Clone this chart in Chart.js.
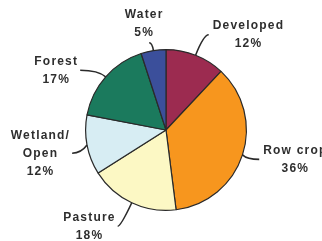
<!DOCTYPE html>
<html>
<head>
<meta charset="utf-8">
<script src="https://cdn.jsdelivr.net/npm/chart.js@4/dist/chart.umd.min.js"></script>
<style>
  html, body { margin: 0; padding: 0; background: #fff; }
  #wrap { width: 322px; height: 241px; position: relative; }
</style>
</head>
<body>
<div id="wrap"><canvas id="landUse"></canvas></div>
<script>
// land use shares (%), clockwise from 12 o'clock
const categories = ["Developed", "Row crop", "Pasture", "Wetland/\nOpen", "Forest", "Water"];
const shares = [12, 36, 18, 12, 17, 5];
const sliceColors = ["#9c2b50", "#f7961e", "#fcf8c4", "#d7edf3", "#1b7a5d", "#3b4f9b"];

// where each callout goes, relative to its slice
const calloutLayout = [
    { ext: 22, tick: 5, side: "right", dy: 0 },
    { ext: 5, tick: 12, side: "right", dy: 3 },
    { ext: 26, tick: -3, side: "left", dy: 0 },
    { ext: 6, tick: -9, side: "left", dy: 7 },
    { ext: 10, tick: -18, side: "left", dy: 0 },
    { ext: 8, tick: -3, side: "above", dy: 0, dx: -5 }
];

const calloutPlugin = {
    id: "callouts",
    afterDatasetsDraw(chart) {
        const ctx = chart.ctx;
        const meta = chart.getDatasetMeta(0);
        const lh = 18;
        ctx.save();
        ctx.font = "bold 12px 'Liberation Sans', Arial, sans-serif";
        ctx.letterSpacing = "1.2px";
        ctx.textBaseline = "middle";
        ctx.textAlign = "center";
        meta.data.forEach(function (arc, i) {
            const p = arc.getProps(["x", "y", "startAngle", "endAngle", "outerRadius"], true);
            const lay = calloutLayout[i];
            const mid = (p.startAngle + p.endAngle) / 2;
            const cx = Math.cos(mid), cy = Math.sin(mid);
            const x0 = p.x + cx * p.outerRadius, y0 = p.y + cy * p.outerRadius;
            const x1 = p.x + cx * (p.outerRadius + lay.ext), y1 = p.y + cy * (p.outerRadius + lay.ext) + lay.dy;
            const x2 = x1 + lay.tick, y2 = y1;

            ctx.strokeStyle = "#2a2a2a";
            ctx.lineWidth = 1.6;
            ctx.beginPath();
            ctx.moveTo(x0, y0);
            ctx.quadraticCurveTo(x1, y1, x2, y2);
            ctx.stroke();

            const lines = categories[i].split("\n").concat([shares[i] + "%"]);
            const maxW = Math.max.apply(null, lines.map(function (t) { return ctx.measureText(t).width; }));
            let bx, by;
            if (lay.side === "right") { bx = x2 + 4 + maxW / 2; by = y2; }
            else if (lay.side === "left") { bx = x2 - 2 - maxW / 2; by = y2; }
            else { bx = x2 + (lay.dx || 0); by = y2 - lines.length * lh / 2 - 1; }

            ctx.fillStyle = "#2e2e2e";
            lines.forEach(function (t, k) {
                ctx.fillText(t, bx, by - (lines.length - 1) * lh / 2 + k * lh);
            });
        });
        ctx.restore();
    }
};

new Chart(document.getElementById("landUse"), {
    type: "pie",
    data: {
        labels: categories,
        datasets: [{
            data: shares,
            backgroundColor: sliceColors,
            borderColor: "#2a2a2a",
            borderWidth: 1.2
        }]
    },
    options: {
        responsive: true,
        maintainAspectRatio: false,
        animation: false,
        layout: { padding: { top: 49, bottom: 30, left: 85, right: 75 } },
        plugins: {
            legend: { display: false },
            tooltip: { enabled: false }
        }
    },
    plugins: [calloutPlugin]
});
</script>
</body>
</html>
